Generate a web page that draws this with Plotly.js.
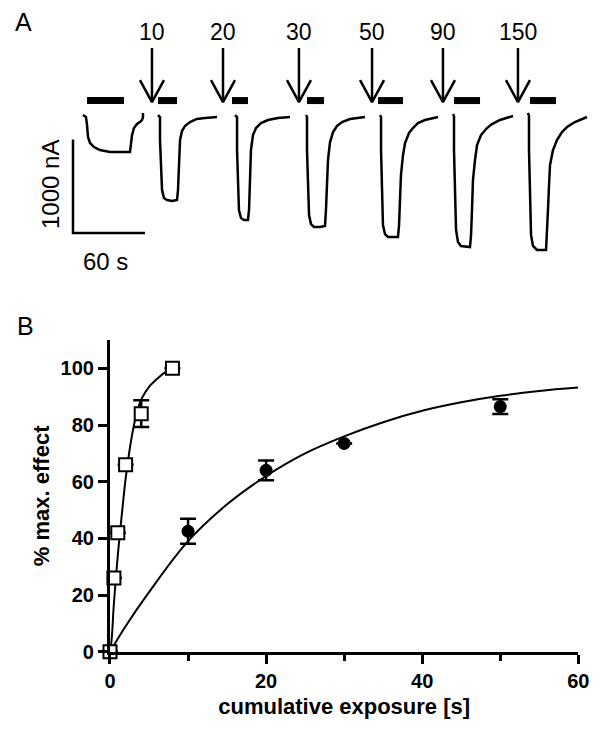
<!DOCTYPE html>
<html><head><meta charset="utf-8">
<script src="https://cdn.plot.ly/plotly-3.0.1.min.js"></script>
<style>html,body{margin:0;padding:0;background:#fff}#chart{width:600px;height:730px}</style>
</head><body><div id="chart"></div>
<script>
// ---------- Panel A : current traces (time in s, current in nA) ----------
const sweepCtrlT = [8.3, 10.8, 11.7, 12.5, 14.2, 17.5, 22.5, 30.8, 47.5, 48.3, 49.2, 50.8, 53.3, 55.8, 57.5, 58.3, 58.3];
const sweepCtrlI = [21, 0, -86, -214, -278, -321, -353, -375, -375, -300, -193, -118, -75, -54, -32, 0, 43];
const sweep10T = [70.8, 72.5, 72.5, 73.3, 74.2, 75.8, 78.3, 82.5, 86.7, 87.5, 88.3, 89.2, 90.8, 93.3, 97.5, 103.3, 110, 120];
const sweep10I = [21, 0, -246, -567, -781, -867, -888, -899, -888, -781, -460, -246, -150, -96, -54, -21, -11, 0];
const sweep20T = [135, 136.7, 136.7, 137.5, 138.3, 140, 142.5, 145.8, 146.7, 147.5, 148.3, 150, 152.5, 156.7, 162.5, 170.8, 180.8];
const sweep20I = [21, 0, -353, -781, -995, -1081, -1102, -1102, -995, -674, -353, -193, -118, -64, -32, -11, 0];
const sweep30T = [194.2, 195, 195, 195.8, 196.7, 198.3, 200.8, 205.8, 210, 210.8, 211.7, 212.5, 214.2, 216.7, 220, 224.2, 230.8, 243.3];
const sweep30I = [21, 0, -353, -781, -1049, -1145, -1177, -1177, -1166, -995, -674, -460, -268, -161, -96, -54, -21, 0];
const sweep50T = [255.8, 256.7, 256.7, 257.5, 258.3, 260, 262.5, 270.8, 271.7, 272.5, 273.3, 275, 276.7, 280, 283.3, 287.5, 293.3, 304.2];
const sweep50I = [21, 0, -353, -888, -1156, -1252, -1284, -1284, -1156, -888, -621, -407, -278, -171, -118, -64, -32, 0];
const sweep90T = [316.7, 317.5, 317.5, 318.3, 319.2, 320.8, 323.3, 330.8, 331.7, 332.5, 333.3, 335, 336.7, 340, 345, 349.2, 355.8, 366.7];
const sweep90I = [32, 11, -353, -888, -1209, -1338, -1380, -1391, -1263, -995, -674, -460, -300, -193, -118, -75, -32, 11];
const sweep150T = [379.2, 380, 380, 380.8, 381.7, 383.3, 386.7, 394.2, 395, 395.8, 396.7, 397.5, 400, 403.3, 407.5, 411.7, 418.3, 428.3];
const sweep150I = [43, 11, -353, -888, -1263, -1380, -1423, -1423, -1263, -995, -728, -514, -353, -246, -161, -107, -54, 0];

// agonist application bars
const barStart = [11.7, 70.8, 132.5, 195, 254.2, 317.5, 380.8];
const barEnd   = [42.5, 86.7, 145.8, 209.2, 275, 339.2, 402.5];
const barLevel = 176;

// pre-exposure arrows
const arrowTimes  = [65.8, 125, 188.3, 249.2, 308.3, 370.8];
const arrowLabels = ['10', '20', '30', '50', '90', '150'];
const arrowTipI = 160;
const arrowTailI = 738;
const arrowLabelI = 913;

// scale bar: 60 s, 1000 nA
const scaleT = [0, 0, 60];
const scaleI = [-241, -1241, -1241];

// ---------- Panel B ----------
const sqX   = [0, 0.5, 1, 2, 4, 8];
const sqY   = [0, 26, 42, 66, 84, 100];
const sqErr = [0, 0, 0, 0, 4.7, 0];

const circX   = [0, 10, 20, 30, 50];
const circY   = [0, 42.5, 64, 73.5, 86.5];
const circErr = [0, 4.4, 3.5, 0, 2.6];

const sqFitX = [0, 0.2, 0.5, 1, 1.5, 2, 2.5, 3, 3.5, 4, 5, 6, 7, 8];
const sqFitY = [0, 4, 17, 34, 48, 61, 71, 79, 85, 89, 93.5, 96.2, 98.5, 100];
const circFitX = [0, 2, 5, 10, 15, 20, 25, 30, 35, 40, 45, 50, 55, 60];
const circFitY = [0, 9, 21, 39, 52, 62, 70, 76, 81, 85, 88, 90.3, 92, 93.2];

const FONT = 'Liberation Sans, Arial, sans-serif';
const lineA = {color: '#000', width: 2.5};
function sweep(t, i) {
  return {x: t, y: i, xaxis: 'x2', yaxis: 'y2', mode: 'lines', line: lineA,
          hoverinfo: 'skip', showlegend: false};
}

const barX = [], barY = [];
barStart.forEach((s, k) => { barX.push(s, barEnd[k], null); barY.push(barLevel, barLevel, null); });

// arrows: shaft + open V head (head half-width 10 s, head length 235 nA)
const arrX = [], arrY = [];
arrowTimes.forEach(t => {
  arrX.push(t, t, null, t - 10, t, t + 10, null);
  arrY.push(arrowTailI, arrowTipI, null, arrowTipI + 235, arrowTipI, arrowTipI + 235, null);
});

const traces = [
  sweep(sweepCtrlT, sweepCtrlI), sweep(sweep10T, sweep10I), sweep(sweep20T, sweep20I),
  sweep(sweep30T, sweep30I), sweep(sweep50T, sweep50I), sweep(sweep90T, sweep90I),
  sweep(sweep150T, sweep150I),
  {x: barX, y: barY, xaxis: 'x2', yaxis: 'y2', mode: 'lines', line: {color: '#000', width: 7},
   hoverinfo: 'skip', showlegend: false},
  {x: arrX, y: arrY, xaxis: 'x2', yaxis: 'y2', mode: 'lines', line: {color: '#000', width: 2.5},
   hoverinfo: 'skip', showlegend: false},
  {x: scaleT, y: scaleI, xaxis: 'x2', yaxis: 'y2', mode: 'lines', line: {color: '#000', width: 2.5},
   hoverinfo: 'skip', showlegend: false},
  // panel B fits
  {x: circFitX, y: circFitY, mode: 'lines', line: {color: '#000', width: 2, shape: 'spline'},
   showlegend: false, cliponaxis: false},
  {x: sqFitX, y: sqFitY, mode: 'lines', line: {color: '#000', width: 2, shape: 'spline'},
   showlegend: false, cliponaxis: false},
  {x: circX, y: circY, mode: 'markers', cliponaxis: false, showlegend: false,
   marker: {symbol: 'circle', size: 13, color: '#000'},
   error_y: {type: 'data', array: circErr, visible: true, color: '#000', thickness: 2.5, width: 8}},
  {x: sqX, y: sqY, mode: 'markers', cliponaxis: false, showlegend: false,
   marker: {symbol: 'square', size: 13, color: '#fff', line: {color: '#000', width: 2}},
   error_y: {type: 'data', array: sqErr, visible: true, color: '#000', thickness: 2.5, width: 8}}
];

const annotations = [];
arrowTimes.forEach((t, k) => {
  annotations.push({xref: 'x2', yref: 'y2', x: t, y: arrowLabelI, text: arrowLabels[k],
    showarrow: false, font: {family: FONT, size: 23, color: '#000'}, xanchor: 'center', yanchor: 'middle'});
});
annotations.push({xref: 'x2', yref: 'y2', x: 26.7, y: -1541, text: '60 s', showarrow: false,
  font: {family: FONT, size: 24, color: '#000'}, xanchor: 'center', yanchor: 'middle'});
annotations.push({xref: 'x2', yref: 'y2', x: -19.2, y: -717, text: '1000 nA', showarrow: false, textangle: -90,
  font: {family: FONT, size: 24, color: '#000'}, xanchor: 'center', yanchor: 'middle'});
annotations.push({xref: 'paper', yref: 'paper', x: 23 / 600, y: 1 - 22 / 730, text: 'A', showarrow: false,
  font: {family: FONT, size: 25, color: '#000'}, xanchor: 'center', yanchor: 'middle'});
annotations.push({xref: 'paper', yref: 'paper', x: 25 / 600, y: 1 - 326 / 730, text: 'B', showarrow: false,
  font: {family: FONT, size: 25, color: '#000'}, xanchor: 'center', yanchor: 'middle'});

const layout = {
  width: 600, height: 730, autosize: false,
  margin: {l: 0, r: 0, t: 0, b: 0},
  paper_bgcolor: '#fff', plot_bgcolor: 'rgba(0,0,0,0)',
  font: {family: FONT, color: '#000'},
  xaxis2: {domain: [0, 1], range: [-60.83, 439.17], visible: false, anchor: 'y2', fixedrange: true},
  yaxis2: {domain: [0.60274, 1], range: [-1851, 1252], visible: false, anchor: 'x2', fixedrange: true},
  xaxis: {domain: [0.18333, 0.96383], range: [0, 60], anchor: 'y',
    showline: true, linewidth: 3, linecolor: '#000', zeroline: false, showgrid: false,
    ticks: 'outside', ticklen: 9, tickwidth: 3, tickcolor: '#000', tick0: 0, dtick: 20,
    minor: {dtick: 10, ticks: 'outside', ticklen: 6, tickwidth: 3, tickcolor: '#000', showgrid: false},
    tickfont: {family: FONT, size: 20, color: '#000', weight: 'bold'},
    title: {text: 'cumulative exposure [s]', font: {family: FONT, size: 22, color: '#000', weight: 'bold'}, standoff: 8}},
  yaxis: {domain: [0.10726, 0.53425], range: [0, 110], anchor: 'x',
    showline: true, linewidth: 3, linecolor: '#000', zeroline: false, showgrid: false,
    ticks: 'outside', ticklen: 9, tickwidth: 3, tickcolor: '#000', tick0: 0, dtick: 20,
    tickfont: {family: FONT, size: 20, color: '#000', weight: 'bold'},
    title: {text: '% max. effect', font: {family: FONT, size: 22, color: '#000', weight: 'bold'}, standoff: 5}},
  annotations: annotations
};

Plotly.newPlot('chart', traces, layout, {staticPlot: true, displayModeBar: false});
</script></body></html>
